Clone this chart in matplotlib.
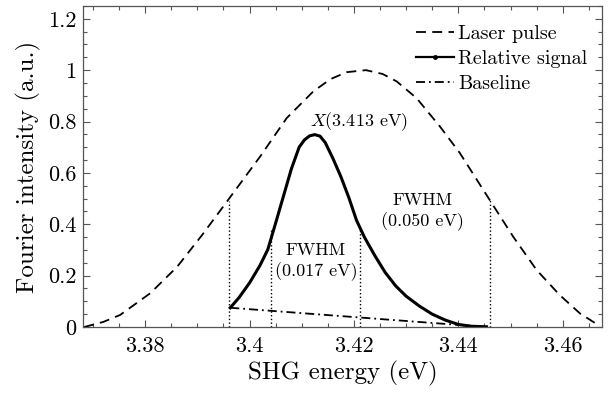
import matplotlib
matplotlib.use("Agg")
import matplotlib.pyplot as plt
from matplotlib.lines import Line2D
from matplotlib.ticker import MultipleLocator, FormatStrFormatter

plt.rcParams['font.family'] = 'serif'
plt.rcParams['font.serif'] = ['cmr10', 'DejaVu Serif']
plt.rcParams['mathtext.fontset'] = 'cm'
plt.rcParams['axes.formatter.use_mathtext'] = True

# -- laser pulse
laser_x = [3.3683, 3.3720, 3.3752, 3.3810, 3.3861, 3.3909, 3.3959, 3.4020,
           3.4071, 3.4122, 3.4155, 3.4186, 3.4223, 3.4255, 3.4282, 3.4320,
           3.4365, 3.4403, 3.4460, 3.4505, 3.4550, 3.4594, 3.4633, 3.4671]
laser_y = [0.000, 0.020, 0.047, 0.132, 0.234, 0.358, 0.495, 0.663,
           0.813, 0.917, 0.965, 0.992, 1.000, 0.985, 0.956, 0.891,
           0.780, 0.677, 0.495, 0.352, 0.222, 0.125, 0.053, 0.004]

# -- relative signal
sig_x = [3.3963, 3.3980, 3.4000, 3.4020, 3.4035, 3.4050, 3.4065, 3.4080,
         3.4095, 3.4105, 3.4115, 3.4125, 3.4135, 3.4145, 3.4160, 3.4175,
         3.4190, 3.4205, 3.4220, 3.4240, 3.4260, 3.4280, 3.4300, 3.4325,
         3.4350, 3.4375, 3.4400, 3.4425, 3.4454]
sig_y = [0.075, 0.115, 0.172, 0.240, 0.302, 0.405, 0.510, 0.615,
         0.700, 0.728, 0.744, 0.749, 0.743, 0.718, 0.655, 0.585,
         0.505, 0.415, 0.350, 0.278, 0.212, 0.160, 0.120, 0.082,
         0.050, 0.027, 0.010, 0.003, 0.001]

# -- baseline
base_x = [3.3963, 3.4454]
base_y = [0.075, 0.000]

# -- FWHM markers
fwhm_x = [3.3960, 3.4042, 3.4211, 3.4460]
fwhm_top = [0.492, 0.378, 0.378, 0.495]

fig = plt.figure(figsize=(6.11, 3.94), dpi=100)
ax = fig.add_axes([0.136, 0.170, 0.849, 0.815])

ax.plot(laser_x, laser_y, color='k', lw=1.3, dashes=(5.5, 3.5))
ax.plot(sig_x, sig_y, color='k', lw=2.2, solid_joinstyle='round')
ax.plot(base_x, base_y, color='k', lw=1.3, dashes=(5, 2.2, 1, 2.2))
ax.vlines(fwhm_x, 0, fwhm_top, colors='k', linestyles=':', lw=1.0)

ax.text(3.4209, 0.80, r'$X$(3.413 eV)', fontsize=13, ha='center', va='center')
ax.text(3.4127, 0.300, 'FWHM', fontsize=13, ha='center', va='center')
ax.text(3.4127, 0.215, '(0.017 eV)', fontsize=13, ha='center', va='center')
ax.text(3.4332, 0.495, 'FWHM', fontsize=13, ha='center', va='center')
ax.text(3.4332, 0.410, '(0.050 eV)', fontsize=13, ha='center', va='center')

ax.set_xlim(3.3681, 3.4675)
ax.set_ylim(0, 1.25)
ax.xaxis.set_major_locator(MultipleLocator(0.02))
ax.xaxis.set_minor_locator(MultipleLocator(0.005))
ax.yaxis.set_major_locator(MultipleLocator(0.2))
ax.yaxis.set_minor_locator(MultipleLocator(0.05))
ax.xaxis.set_major_formatter(FormatStrFormatter('%g'))
ax.yaxis.set_major_formatter(FormatStrFormatter('%g'))
ax.tick_params(which='both', direction='in', top=True, right=True,
               color='#555555', labelsize=16)
ax.tick_params(which='major', length=5, width=0.8)
ax.tick_params(which='minor', length=3, width=0.8)
ax.tick_params(axis='x', pad=7)
ax.tick_params(axis='y', pad=5)
for s in ax.spines.values():
    s.set_color('#555555')
    s.set_linewidth(0.9)

ax.set_xlabel('SHG energy (eV)', fontsize=18, labelpad=3)
ax.set_ylabel('Fourier intensity (a.u.)', fontsize=18, labelpad=5)

handles = [Line2D([], [], color='k', lw=1.3, dashes=(5.5, 3.5)),
           Line2D([], [], color='k', lw=1.6, marker='.', ms=5),
           Line2D([], [], color='k', lw=1.3, dashes=(5, 2.2, 1, 2.2))]
ax.legend(handles, ['Laser pulse', 'Relative signal', 'Baseline'],
          loc='upper right', bbox_to_anchor=(1.0, 0.985), frameon=False,
          fontsize=14.5, handlelength=1.9, handletextpad=0.2,
          labelspacing=0.35, borderaxespad=0.3)

fig.savefig('out.png', dpi=100)
